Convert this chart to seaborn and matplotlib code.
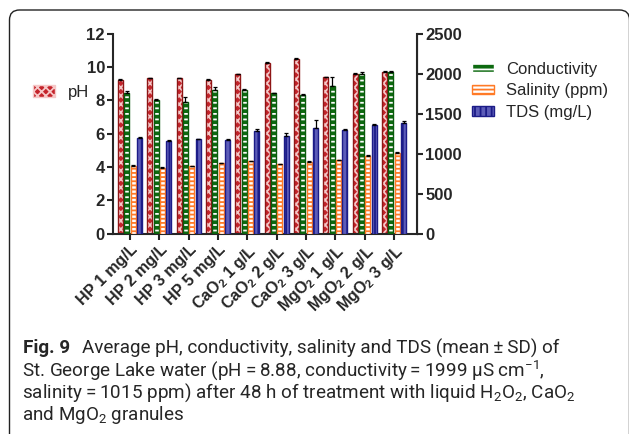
import numpy as np
import pandas as pd
import matplotlib
matplotlib.use("Agg")
import matplotlib.pyplot as plt
import seaborn as sns
from matplotlib.patches import Patch, Rectangle, FancyBboxPatch
from matplotlib.transforms import IdentityTransform

# data
groups = ["HP 1 mg/L", "HP 2 mg/L", "HP 3 mg/L", "HP 5 mg/L",
          "CaO$_2$ 1 g/L", "CaO$_2$ 2 g/L", "CaO$_2$ 3 g/L",
          "MgO$_2$ 1 g/L", "MgO$_2$ 2 g/L", "MgO$_2$ 3 g/L"]
measures = ["pH", "Conductivity", "Salinity (ppm)", "TDS (mg/L)"]

ph = [9.23, 9.31, 9.31, 9.23, 9.55, 10.23, 10.50, 9.37, 9.57, 9.69]
ph_sd = [0.04, 0.04, 0.04, 0.04, 0.05, 0.04, 0.04, 0.04, 0.04, 0.04]
cond = [1754, 1673, 1652, 1800, 1800, 1754, 1729, 1850, 1996, 2021]
cond_sd = [28, 10, 58, 29, 8, 10, 12, 104, 25, 17]
sal = [850, 825, 841, 883, 904, 867, 896, 917, 971, 1012]
sal_sd = [8, 8, 8, 6, 8, 8, 8, 8, 8, 8]
tds = [1197, 1159, 1180, 1172, 1289, 1225, 1317, 1296, 1358, 1379]
tds_sd = [10, 8, 8, 8, 25, 29, 104, 10, 12, 25]

values = {"pH": (ph, ph_sd), "Conductivity": (cond, cond_sd),
          "Salinity (ppm)": (sal, sal_sd), "TDS (mg/L)": (tds, tds_sd)}

# face colour, hatch colour, hatch, border colour
styles = {
    "pH": ("#c4242b", "#f6c8c8", "xxxx", "#8e1616"),
    "Conductivity": ("#0d6a10", "white", "---", "#0a5a0c"),
    "Salinity (ppm)": ("white", "#ff7a26", "----", "#ff7a26"),
    "TDS (mg/L)": ("#5c5cb8", "#1c1c88", "|||", "#1c1c88"),
}

sns.set_style("ticks")
plt.rcParams["font.family"] = ["Liberation Sans", "DejaVu Sans"]
plt.rcParams["mathtext.default"] = "regular"
plt.rcParams["hatch.linewidth"] = 1.3

fig = plt.figure(figsize=(6.29, 4.34), dpi=100)
ax = fig.add_axes([0.180, 0.4615, 0.4825, 0.461])
ax2 = ax.twinx()

for m in measures:
    target = ax if m == "pH" else ax2
    vals, sd = values[m]
    df = pd.DataFrame({"group": groups, "measure": m, "value": vals})
    n0 = len(target.patches)
    sns.barplot(data=df, x="group", y="value", hue="measure",
                order=groups, hue_order=measures, width=0.87, gap=0.22,
                dodge=True, errorbar=None, legend=False, ax=target)
    face, hcol, hatch, border = styles[m]
    bars = list(target.patches[n0:])
    xs, tops = [], []
    for p in bars:
        p.set_facecolor(face)
        p.set_edgecolor(hcol)
        p.set_hatch(hatch)
        p.set_linewidth(0)
        target.add_patch(Rectangle((p.get_x(), 0), p.get_width(), p.get_height(),
                                   fill=False, ec=border, lw=1.0, zorder=p.get_zorder()))
        xs.append(p.get_x() + p.get_width() / 2)
        tops.append(p.get_height())
    target.errorbar(xs, tops, yerr=[np.zeros(len(sd)), sd], fmt="none",
                    ecolor="black", elinewidth=0.9, capsize=1.5, capthick=0.9, zorder=1)

ax.set_ylim(0, 12)
ax.set_yticks(np.arange(0, 13, 2))
ax2.set_ylim(0, 2500)
ax2.set_yticks(np.arange(0, 2501, 500))
ax.set_xlim(-0.57, 9.77)
ax.set_xticks(range(len(groups)))
ax.set_xticklabels(groups, rotation=45, ha="right", rotation_mode="anchor",
                   fontsize=11.5, fontweight="bold")
for a in (ax, ax2):
    a.set_xlabel("")
    a.set_ylabel("")
    a.tick_params(axis="both", length=4, width=1.5, pad=2)
    a.tick_params(axis="y", labelsize=12)
    for lab in a.get_yticklabels():
        lab.set_fontweight("bold")
    a.spines["top"].set_visible(False)
for s in ("left", "bottom"):
    ax.spines[s].set_linewidth(1.5)
ax2.spines["right"].set_linewidth(1.5)
ax2.spines["left"].set_visible(False)
ax2.spines["bottom"].set_visible(False)

def handle(m):
    face, hcol, hatch, border = styles[m]
    return Patch(facecolor=face, edgecolor=hcol, hatch=hatch, linewidth=1)

fig.legend(handles=[handle("pH")], labels=["pH"], loc="upper left",
           bbox_to_anchor=(0.052, 0.805), frameon=False, fontsize=12,
           handlelength=1.35, handleheight=0.72, handletextpad=0.75,
           borderpad=0, borderaxespad=0)
fig.legend(handles=[handle(m) for m in measures[1:]], labels=measures[1:],
           loc="upper left", bbox_to_anchor=(0.751, 0.858), frameon=False,
           fontsize=12, handlelength=1.3, handleheight=0.46, handletextpad=0.7,
           labelspacing=0.4, borderpad=0, borderaxespad=0)

# caption
cap_font = ["Roboto", "DejaVu Sans"]
cap_size = 13.6
fig.text(23 / 629, 1 - 348 / 434, "Fig. 9", fontsize=cap_size, fontweight="bold",
         family=cap_font, va="center")
fig.text(82 / 629, 1 - 348 / 434,
         "Average pH, conductivity, salinity and TDS (mean\u2009±\u2009SD) of",
         fontsize=cap_size, family=cap_font, va="center")
lines = ["St. George Lake water (pH\u2009=\u20098.88, conductivity\u2009=\u20091999 µS cm$^{-1}$,",
         "salinity\u2009=\u20091015 ppm) after 48 h of treatment with liquid H$_2$O$_2$, CaO$_2$",
         "and MgO$_2$ granules"]
for i, line in enumerate(lines):
    fig.text(22 / 629, 1 - (370.5 + 22.5 * i) / 434, line, fontsize=cap_size,
             family=cap_font, va="center")

fig.add_artist(FancyBboxPatch((9.5, -30), 620, 454, boxstyle="round,pad=0,rounding_size=10",
                              fill=False, ec="#222222", lw=1, transform=IdentityTransform()))

fig.savefig("out.png", dpi=100)
